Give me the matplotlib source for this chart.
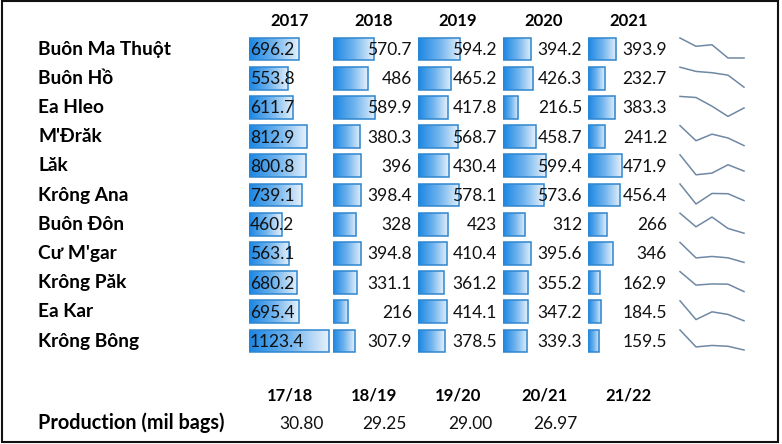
import matplotlib.pyplot as plt
import numpy as np
from matplotlib import patches
from matplotlib.colors import LinearSegmentedColormap

plt.rcParams['font.family'] = ['Lato', 'DejaVu Sans']

# district table (thousand tonnes)
districts = ["Buôn Ma Thuột", "Buôn Hồ", "Ea Hleo", "M'Đrăk", "Lăk", "Krông Ana",
             "Buôn Đôn", "Cư M'gar", "Krông Păk", "Ea Kar", "Krông Bông"]
years = ["2017", "2018", "2019", "2020", "2021"]
v2017 = [696.2, 553.8, 611.7, 812.9, 800.8, 739.1, 460.2, 563.1, 680.2, 695.4, 1123.4]
v2018 = [570.7, 486, 589.9, 380.3, 396, 398.4, 328, 394.8, 331.1, 216, 307.9]
v2019 = [594.2, 465.2, 417.8, 568.7, 430.4, 578.1, 423, 410.4, 361.2, 414.1, 378.5]
v2020 = [394.2, 426.3, 216.5, 458.7, 599.4, 573.6, 312, 395.6, 355.2, 347.2, 339.3]
v2021 = [393.9, 232.7, 383.3, 241.2, 471.9, 456.4, 266, 346, 162.9, 184.5, 159.5]
columns = [v2017, v2018, v2019, v2020, v2021]

# national production
seasons = ["17/18", "18/19", "19/20", "20/21", "21/22"]
production = ["30.80", "29.25", "29.00", "26.97"]

W, H = 782, 444
fig = plt.figure(figsize=(W / 100, H / 100), dpi=100)


def box(x0, y0, w, h):
    # pixel box (top-left origin) -> figure fraction
    return [x0 / W, 1 - (y0 + h) / H, w / W, h / H]


row_y0, row_h = 49, 29.2
col_x = [249, 333, 418, 503, 588]
head_x = [290, 374, 458, 544, 629]
px_per_unit = 0.0712
col_w = 90
n = len(districts)
top = row_y0 - row_h / 2

grad = np.linspace(0, 1, 256).reshape(1, -1)
bar_cmap = LinearSegmentedColormap.from_list("db", ["#1a86e3", "#6fb3ee", "#e6f1fb"])

# data bars per year column
for j, (vals, x0) in enumerate(zip(columns, col_x)):
    cax = fig.add_axes(box(x0, top, col_w, n * row_h))
    cax.set_xlim(0, col_w / px_per_unit)
    cax.set_ylim(n - 0.5, -0.5)
    cax.axis('off')
    for i, v in enumerate(vals):
        rect = patches.Rectangle((0, i - 0.39), v, 0.78, fill=False,
                                 ec="#2f86cf", lw=1.1, zorder=3)
        cax.add_patch(rect)
        im = cax.imshow(grad, extent=[0, v, i + 0.39, i - 0.39], aspect='auto',
                        cmap=bar_cmap, zorder=2)
        im.set_clip_path(rect)

# sparklines
for i in range(n):
    vals = [c[i] for c in columns]
    sax = fig.add_axes(box(680, row_y0 + i * row_h - 11, 64, 20))
    sax.plot(range(len(vals)), vals, color="#6f88a3", lw=1.1, clip_on=False)
    sax.set_xlim(0, len(vals) - 1)
    sax.set_ylim(min(vals), max(vals))
    sax.axis('off')

# text overlay in pixel coordinates
ax = fig.add_axes([0, 0, 1, 1])
ax.set_xlim(0, W)
ax.set_ylim(H, 0)
ax.axis('off')
ax.patch.set_alpha(0)

# outer frame
ax.add_patch(patches.Rectangle((1.5, 1.5), 776, 440, fill=False, ec="#111111", lw=1.5))

for i, name in enumerate(districts):
    ax.text(38, row_y0 + i * row_h, name, fontsize=13.8, fontweight='bold',
            ha='left', va='center')

for j, (vals, x0) in enumerate(zip(columns, col_x)):
    ax.text(head_x[j], 21, years[j], fontsize=12, fontweight='bold',
            ha='center', va='center')
    for i, v in enumerate(vals):
        label = f"{v:g}"
        if j == 0:
            ax.text(x0 + 1, row_y0 + i * row_h + 1, label, fontsize=12.5,
                    ha='left', va='center', color="#111111")
        else:
            ax.text(x0 + 79, row_y0 + i * row_h + 1, label, fontsize=12.5,
                    ha='right', va='center', color="#111111")

# production section
for j, s in enumerate(seasons):
    ax.text(head_x[j], 395, s, fontsize=12, fontweight='bold',
            ha='center', va='center')
ax.text(38, 423, "Production (mil bags)", fontsize=14.3, fontweight='bold',
        ha='left', va='center')
prod_x = [301, 384, 470, 555]
for x, p in zip(prod_x, production):
    ax.text(x, 424, p, fontsize=12.5, ha='center', va='center', color="#111111")

fig.savefig("out.png", dpi=100)
